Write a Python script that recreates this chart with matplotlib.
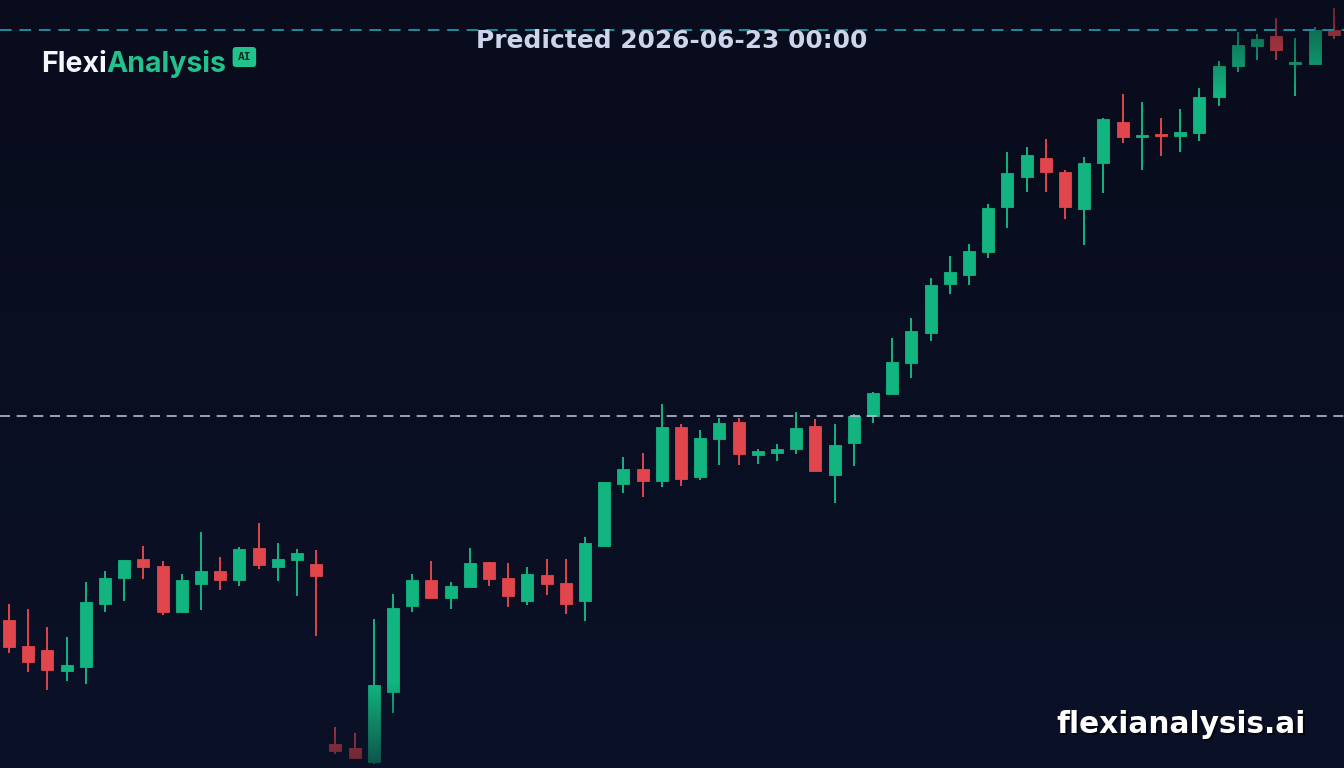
import matplotlib

matplotlib.use("Agg")
import matplotlib.pyplot as plt
import numpy as np
from matplotlib.colors import to_rgb

plt.rcParams.update({"font.family": ["DejaVu Sans"], "savefig.facecolor": "#090d1e"})

# OHLC values (arbitrary price units)
opens = [148, 122, 118, 97, 101, 164, 190, 209, 202, 156, 184, 197, 188, 220, 201, 208, 204,
         24, 20, 6, 76, 162, 188, 170, 181, 206, 190, 167, 193, 185, 167, 222, 284, 299, 287,
         341, 291, 329, 346, 313, 315, 319, 342, 293, 325, 352, 374, 405, 435, 484, 493, 516,
         561, 591, 610, 596, 559, 605, 646, 631, 634, 632, 635, 671, 702, 722, 732, 704, 704, 738]
highs = [164, 159, 141, 131, 186, 197, 208, 222, 207, 194, 236, 211, 221, 245, 225, 219, 218,
         41, 35, 149, 174, 194, 207, 186, 220, 206, 205, 201, 209, 209, 231, 286, 311, 315, 364,
         344, 338, 350, 350, 319, 324, 356, 349, 344, 354, 376, 430, 450, 490, 512, 524, 564,
         616, 621, 629, 598, 611, 650, 674, 666, 650, 659, 680, 707, 736, 734, 750, 730, 741, 760]
lows = [115, 96, 78, 87, 84, 156, 167, 189, 153, 155, 158, 178, 182, 199, 187, 172, 132,
        14, 10, 4, 55, 156, 170, 159, 181, 182, 161, 163, 173, 154, 147, 221, 275, 271, 281,
        282, 288, 303, 303, 304, 307, 314, 297, 265, 302, 345, 374, 390, 427, 474, 483, 510,
        540, 576, 576, 549, 523, 575, 625, 598, 612, 616, 627, 662, 696, 708, 708, 672, 704, 729]
closes = [121, 106, 98, 103, 166, 190, 208, 201, 156, 188, 197, 188, 219, 203, 209, 215, 192,
          17, 10, 83, 160, 188, 170, 182, 205, 189, 172, 194, 184, 164, 225, 286, 299, 287, 341,
          289, 330, 345, 314, 317, 319, 340, 297, 323, 352, 375, 406, 437, 483, 496, 517, 560,
          595, 613, 596, 561, 605, 649, 631, 633, 632, 636, 671, 702, 723, 729, 718, 706, 738, 733]

prediction_level = 352
top_level = 738
title = "Predicted 2026-06-23 00:00"

bg_top = "#080c1c"
bg_bottom = "#0b1127"
up_color = "#12b57f"
down_color = "#e0464b"
logo_green = "#22c28c"

W, H, DPI = 1344, 768, 100
fig = plt.figure(figsize=(W / DPI, H / DPI), dpi=DPI)
ax = fig.add_axes([0, 0, 1, 1])
step = 19.2
x0 = 9 / step
ax.set_xlim(-x0, (W - 9) / step)
ax.set_ylim(0, H)
ax.axis("off")
xl = ax.get_xlim()

# background gradient
c_top, c_bot = np.array(to_rgb(bg_top)), np.array(to_rgb(bg_bottom))
t = np.linspace(0, 1, 256)[:, None]
grad = c_top * (1 - t) + c_bot * t
ax.imshow(grad[:, None, :], extent=(xl[0], xl[1], 0, H), aspect="auto", origin="upper", zorder=0)

idx = np.arange(len(opens))
o, h, l, c = map(np.asarray, (opens, highs, lows, closes))
up = c >= o
colors = np.where(up, up_color, down_color)
ax.vlines(idx, l, h, colors=colors, linewidth=1.4, zorder=2)
body_low = np.minimum(o, c)
body_h = np.maximum(np.abs(c - o), 2.0)
ax.bar(idx, body_h, bottom=body_low, width=0.62, color=colors, edgecolor=colors,
       linewidth=0.6, zorder=2)

# fade the candles near top and bottom edges
fade = np.zeros((256, 1, 4))
fade[:, 0, :3] = grad
yy = np.linspace(H, 0, 256)
alpha = np.zeros(256)
alpha = np.where(yy > H - 95, 0.6 * (yy - (H - 95)) / 95, alpha)
alpha = np.where(yy < 85, 0.6 * (85 - yy) / 85, alpha)
fade[:, 0, 3] = alpha
ax.imshow(fade, extent=(xl[0], xl[1], 0, H), aspect="auto", origin="upper", zorder=3)

ax.axhline(prediction_level, color="#b4bad6", linewidth=1.2, linestyle=(0, (6, 4)), zorder=4)
ax.axhline(top_level, color="#1f8b9c", linewidth=1.4, linestyle=(0, (6, 4)), zorder=4)

# title
fig.text(0.5, 1 - 48 / H, title, ha="center", va="baseline", fontsize=17.9,
         fontweight="bold", color="#cdd5ec", zorder=5)

# logo
renderer = fig.canvas.get_renderer()
t1 = fig.text(41 / W, 1 - 72 / H, "Flexi", ha="left", va="baseline", fontsize=20.5,
              fontweight="bold", family="Inter", color="#f4f6fa")
bb = t1.get_window_extent(renderer)
t2 = fig.text(bb.x1 / W, 1 - 72 / H, "Analysis", ha="left", va="baseline", fontsize=20.5,
              fontweight="bold", family="Inter", color=logo_green)
bb2 = t2.get_window_extent(renderer)
fig.text(bb2.x1 / W + 11 / W, 1 - 57 / H, "AI", ha="left", va="center", fontsize=8,
         family="DejaVu Sans Mono", fontweight="bold", color="#0b2a20",
         bbox=dict(boxstyle="round,pad=0.45,rounding_size=0.3", fc=logo_green, ec="none"))

# watermark with shadow
fig.text(1306 / W + 1.5 / W, 1 - 733 / H - 2 / H, "flexianalysis.ai", ha="right", va="baseline",
         fontsize=21.3, fontweight="bold", color="#000000", alpha=0.6)
fig.text(1306 / W, 1 - 733 / H, "flexianalysis.ai", ha="right", va="baseline",
         fontsize=21.3, fontweight="bold", color="#ffffff")

fig.savefig("out.png", dpi=DPI)
